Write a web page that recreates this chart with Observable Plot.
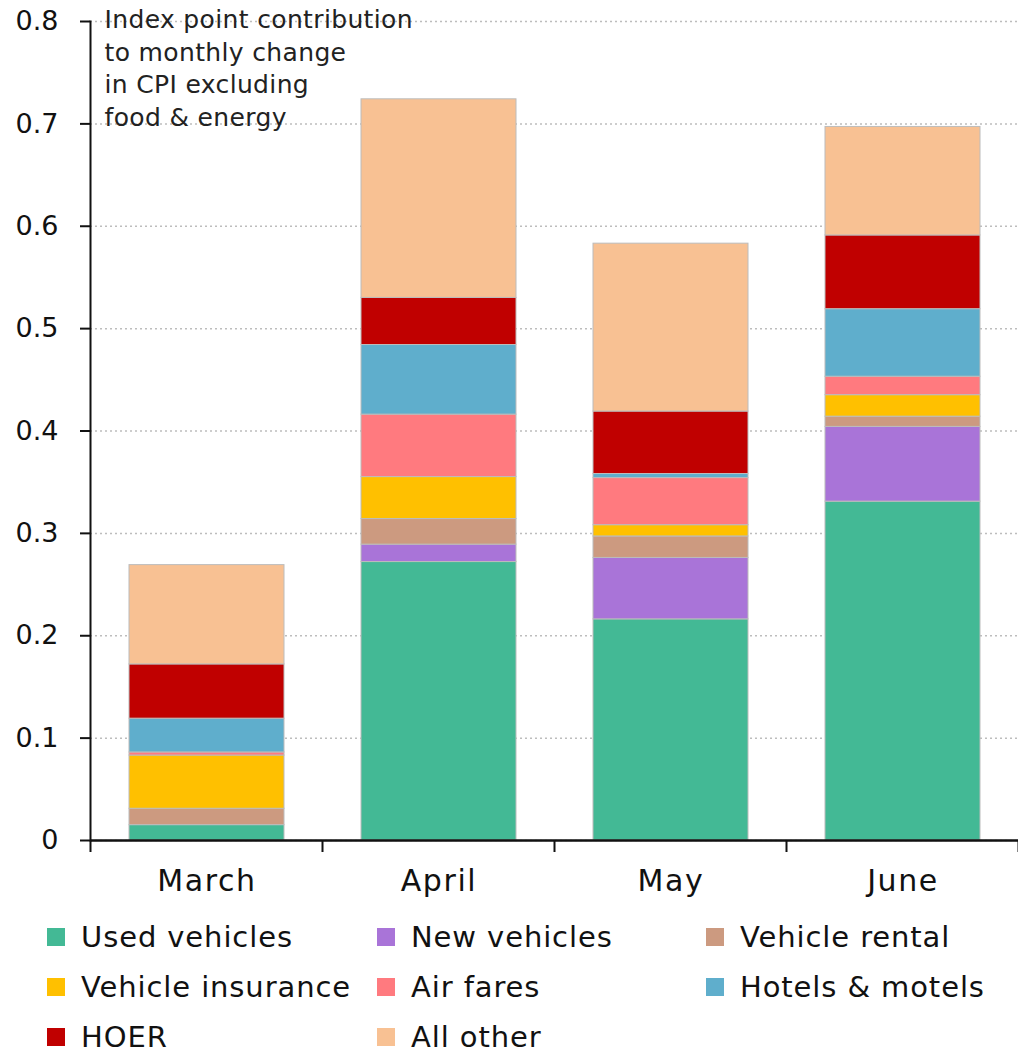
<!DOCTYPE html>
<html>
<head>
<meta charset="utf-8">
<script src="https://cdn.jsdelivr.net/npm/d3@7"></script>
<script src="https://cdn.jsdelivr.net/npm/@observablehq/plot@0.6"></script>
<style>
  body { margin: 0; background: #fff; font-family: "DejaVu Sans", sans-serif; }
  #legend { display: grid; grid-template-columns: 330px 329px 300px; padding-left: 47px; }
  .item { display: flex; align-items: center; height: 50px; font-size: 29px; letter-spacing: 0.9px; color: #111; white-space: nowrap; }
  .sw { width: 18px; height: 18px; margin-right: 16px; flex: none; }
</style>
</head>
<body>
<div id="chart"></div>
<div id="legend"></div>
<script>
const months = ["March", "April", "May", "June"];
const categories = ["Used vehicles", "New vehicles", "Vehicle rental", "Vehicle insurance", "Air fares", "Hotels & motels", "HOER", "All other"];
const colors = ["#43B995", "#A974D8", "#CC9A80", "#FFC000", "#FF7A7F", "#5FAECC", "#C00000", "#F8C193"];
const usedVehicles     = [0.015, 0.272, 0.216, 0.331];
const newVehicles      = [0.000, 0.017, 0.060, 0.073];
const vehicleRental    = [0.016, 0.025, 0.021, 0.010];
const vehicleInsurance = [0.052, 0.041, 0.011, 0.021];
const airFares         = [0.003, 0.061, 0.046, 0.018];
const hotelsMotels     = [0.033, 0.068, 0.004, 0.066];
const hoer             = [0.053, 0.046, 0.061, 0.072];
const allOther         = [0.097, 0.194, 0.164, 0.106];
const yTicks = [0, 0.1, 0.2, 0.3, 0.4, 0.5, 0.6, 0.7, 0.8];
const note = "Index point contribution\nto monthly change\nin CPI excluding\nfood & energy";

const series = [usedVehicles, newVehicles, vehicleRental, vehicleInsurance, airFares, hotelsMotels, hoer, allOther];
const data = [];
months.forEach((m, i) => {
  categories.forEach((c, j) => data.push({month: m, category: c, value: series[j][i]}));
});

const plot = Plot.plot({
  width: 1018,
  height: 912,
  marginTop: 21,
  marginBottom: 72,
  marginLeft: 90,
  marginRight: 0,
  style: {fontFamily: "DejaVu Sans, sans-serif", color: "#111", background: "#fff"},
  x: {domain: months, paddingInner: 0.332, paddingOuter: 0.166, label: null},
  y: {domain: [0, 0.8], label: null},
  color: {domain: categories, range: colors},
  marks: [
    Plot.gridY(yTicks, {stroke: "#bdbdbd", strokeOpacity: 1, strokeDasharray: "2,3", strokeWidth: 1.5}),
    Plot.barY(data, Plot.stackY({x: "month", y: "value", fill: "category", order: null, stroke: "#bcbcbc", strokeWidth: 1})),
    Plot.axisY(yTicks, {tickSize: 10, tickPadding: 22, fontSize: 27, strokeWidth: 2, tickFormat: d => d === 0 ? "0" : d.toFixed(1), label: null}),
    Plot.axisX({tickSize: 0, tickPadding: 29, fontSize: 30, label: null}),
    Plot.frame({anchor: "left", stroke: "#111", strokeWidth: 2}),
    Plot.ruleY([0], {stroke: "#111", strokeWidth: 2.5}),
    Plot.text([note], {frameAnchor: "top-left", dx: 14, dy: -17, fontSize: 25, lineHeight: 1.31, textAnchor: "start", lineAnchor: "top", fill: "#222"})
  ]
});
document.getElementById("chart").appendChild(plot);

// letter spacing to approximate the wide original typeface
d3.select(plot).selectAll("[aria-label='x-axis tick label'] text").style("letter-spacing", "1.6px");
d3.select(plot).selectAll("[aria-label='text'] text").style("letter-spacing", "0.35px");

// category boundary ticks on the x axis
const xs = plot.scale("x");
const ys = plot.scale("y");
const y0 = ys.apply(0);
const gap = (xs.step - xs.bandwidth) / 2;
const bounds = months.map(m => xs.apply(m) - gap);
bounds.push(xs.apply(months[months.length - 1]) + xs.bandwidth + gap);
d3.select(plot).append("g").selectAll("line").data(bounds).join("line")
  .attr("x1", d => d).attr("x2", d => d)
  .attr("y1", y0).attr("y2", y0 + 12)
  .attr("stroke", "#111").attr("stroke-width", 2);

const legend = document.getElementById("legend");
categories.forEach((c, i) => {
  const it = document.createElement("div");
  it.className = "item";
  it.innerHTML = `<span class="sw" style="background:${colors[i]}"></span><span></span>`;
  it.lastChild.textContent = c;
  legend.appendChild(it);
});
</script>
</body>
</html>
